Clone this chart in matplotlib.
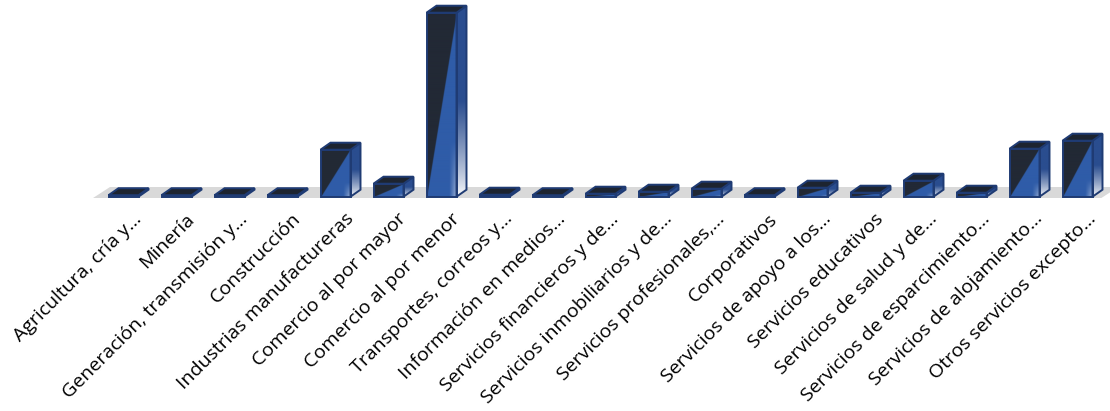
import numpy as np
import matplotlib
matplotlib.use("Agg")
import matplotlib.pyplot as plt
from matplotlib.patches import Polygon, Rectangle

categorias = [
    "Agricultura, cría y...", "Minería", "Generación, transmisión y...",
    "Construcción", "Industrias manufactureras", "Comercio al por mayor",
    "Comercio al por menor", "Transportes, correos y...", "Información en medios...",
    "Servicios financieros y de...", "Servicios inmobiliarios y de...",
    "Servicios profesionales,...", "Corporativos", "Servicios de apoyo a los...",
    "Servicios educativos", "Servicios de salud y de...",
    "Servicios de esparcimiento...", "Servicios de alojamiento...",
    "Otros servicios excepto...",
]
valores = [1, 0, 0, 1, 47, 13, 184, 2, 1, 3, 5, 8, 0, 9, 4, 16, 4, 48, 56]

W, H = 1110, 411
fig = plt.figure(figsize=(W / 100, H / 100), dpi=100)

# pixel layout of the plot box
px_unit = 53.0
left_px = 123.5 - 0.5 * px_unit
base_px = H - 196.7
ymin, ymax = -10, 196
ax = fig.add_axes([left_px / W, (base_px + ymin) / H, 19 * px_unit / W, (ymax - ymin) / H])
ax.set_xlim(-0.5, 18.5)
ax.set_ylim(ymin, ymax)
ax.axis("off")

bw = 30 / px_unit
dx, dy = 10 / px_unit, 7.0
edge = "#1f3b73"
dark = np.array([0x22, 0x29, 0x35]) / 255
blue = np.array([0x2f, 0x5c, 0xa8]) / 255
white = np.array([1.0, 1.0, 1.0])
top_col = "#1d2430"

# floor
fdx, fdy = 17 / px_unit, 11
floor = Polygon([(-0.575, -1.3), (18.45, -1.3), (18.45 + fdx, -1.3 + fdy), (-0.575 + fdx, -1.3 + fdy)],
                closed=True, facecolor="#d9d9d9", edgecolor="none", clip_on=False, zorder=0)
ax.add_patch(floor)

# gradient textures
n = 120
u, v = np.meshgrid(np.linspace(0, 1, n), np.linspace(0, 1, n))
front_img = np.zeros((n, n, 3))
mask = v < u
front_img[~mask] = dark
wf = (np.clip((u - 0.75) / 0.25, 0, 1) * np.clip((0.3 - v) / 0.3, 0, 1) * 0.55)[..., None]
front_blue = blue * (1 - wf) + white * wf
front_img[mask] = front_blue[mask]

s = np.linspace(0, 1, n)[:, None]
side_blue = np.array([0x2a, 0x4d, 0x8f]) / 255
k = np.clip(s / 0.5, 0, 1)[..., None] ** 0.8
side_img = np.repeat((white * (1 - k) + side_blue * k), 4, axis=1)

for i, val in enumerate(valores):
    h = max(val, 1.5)
    x0, x1 = i - bw / 2, i + bw / 2
    # front face
    rect = Rectangle((x0, 0), bw, h, facecolor="none", edgecolor="none")
    ax.add_patch(rect)
    im = ax.imshow(front_img, extent=[x0, x1, 0, h], origin="lower", aspect="auto",
                   interpolation="bilinear", zorder=2)
    im.set_clip_path(rect)
    ax.add_patch(Rectangle((x0, 0), bw, h, facecolor="none", edgecolor=edge, lw=1.4, zorder=3))
    # side face
    side = Polygon([(x1, 0), (x1 + dx, dy), (x1 + dx, h + dy), (x1, h)], closed=True,
                   facecolor="none", edgecolor="none")
    ax.add_patch(side)
    im2 = ax.imshow(side_img, extent=[x1, x1 + dx, 0, h + dy], origin="lower", aspect="auto",
                    interpolation="bilinear", zorder=2)
    im2.set_clip_path(side)
    ax.add_patch(Polygon(side.get_xy(), closed=True, facecolor="none", edgecolor=edge, lw=1.4, zorder=3))
    # top face
    ax.add_patch(Polygon([(x0, h), (x1, h), (x1 + dx, h + dy), (x0 + dx, h + dy)], closed=True,
                         facecolor=top_col, edgecolor=edge, lw=1.4, zorder=3))

ax.set_xlim(-0.5, 18.5)
ax.set_ylim(ymin, ymax)

for i, lab in enumerate(categorias):
    ax.text(i + 0.17, -13, lab, rotation=45, ha="right", va="top", rotation_mode="anchor",
            fontsize=14, family=["Open Sans", "DejaVu Sans"], color="#000000", clip_on=False)

fig.savefig("out.png", dpi=100)
